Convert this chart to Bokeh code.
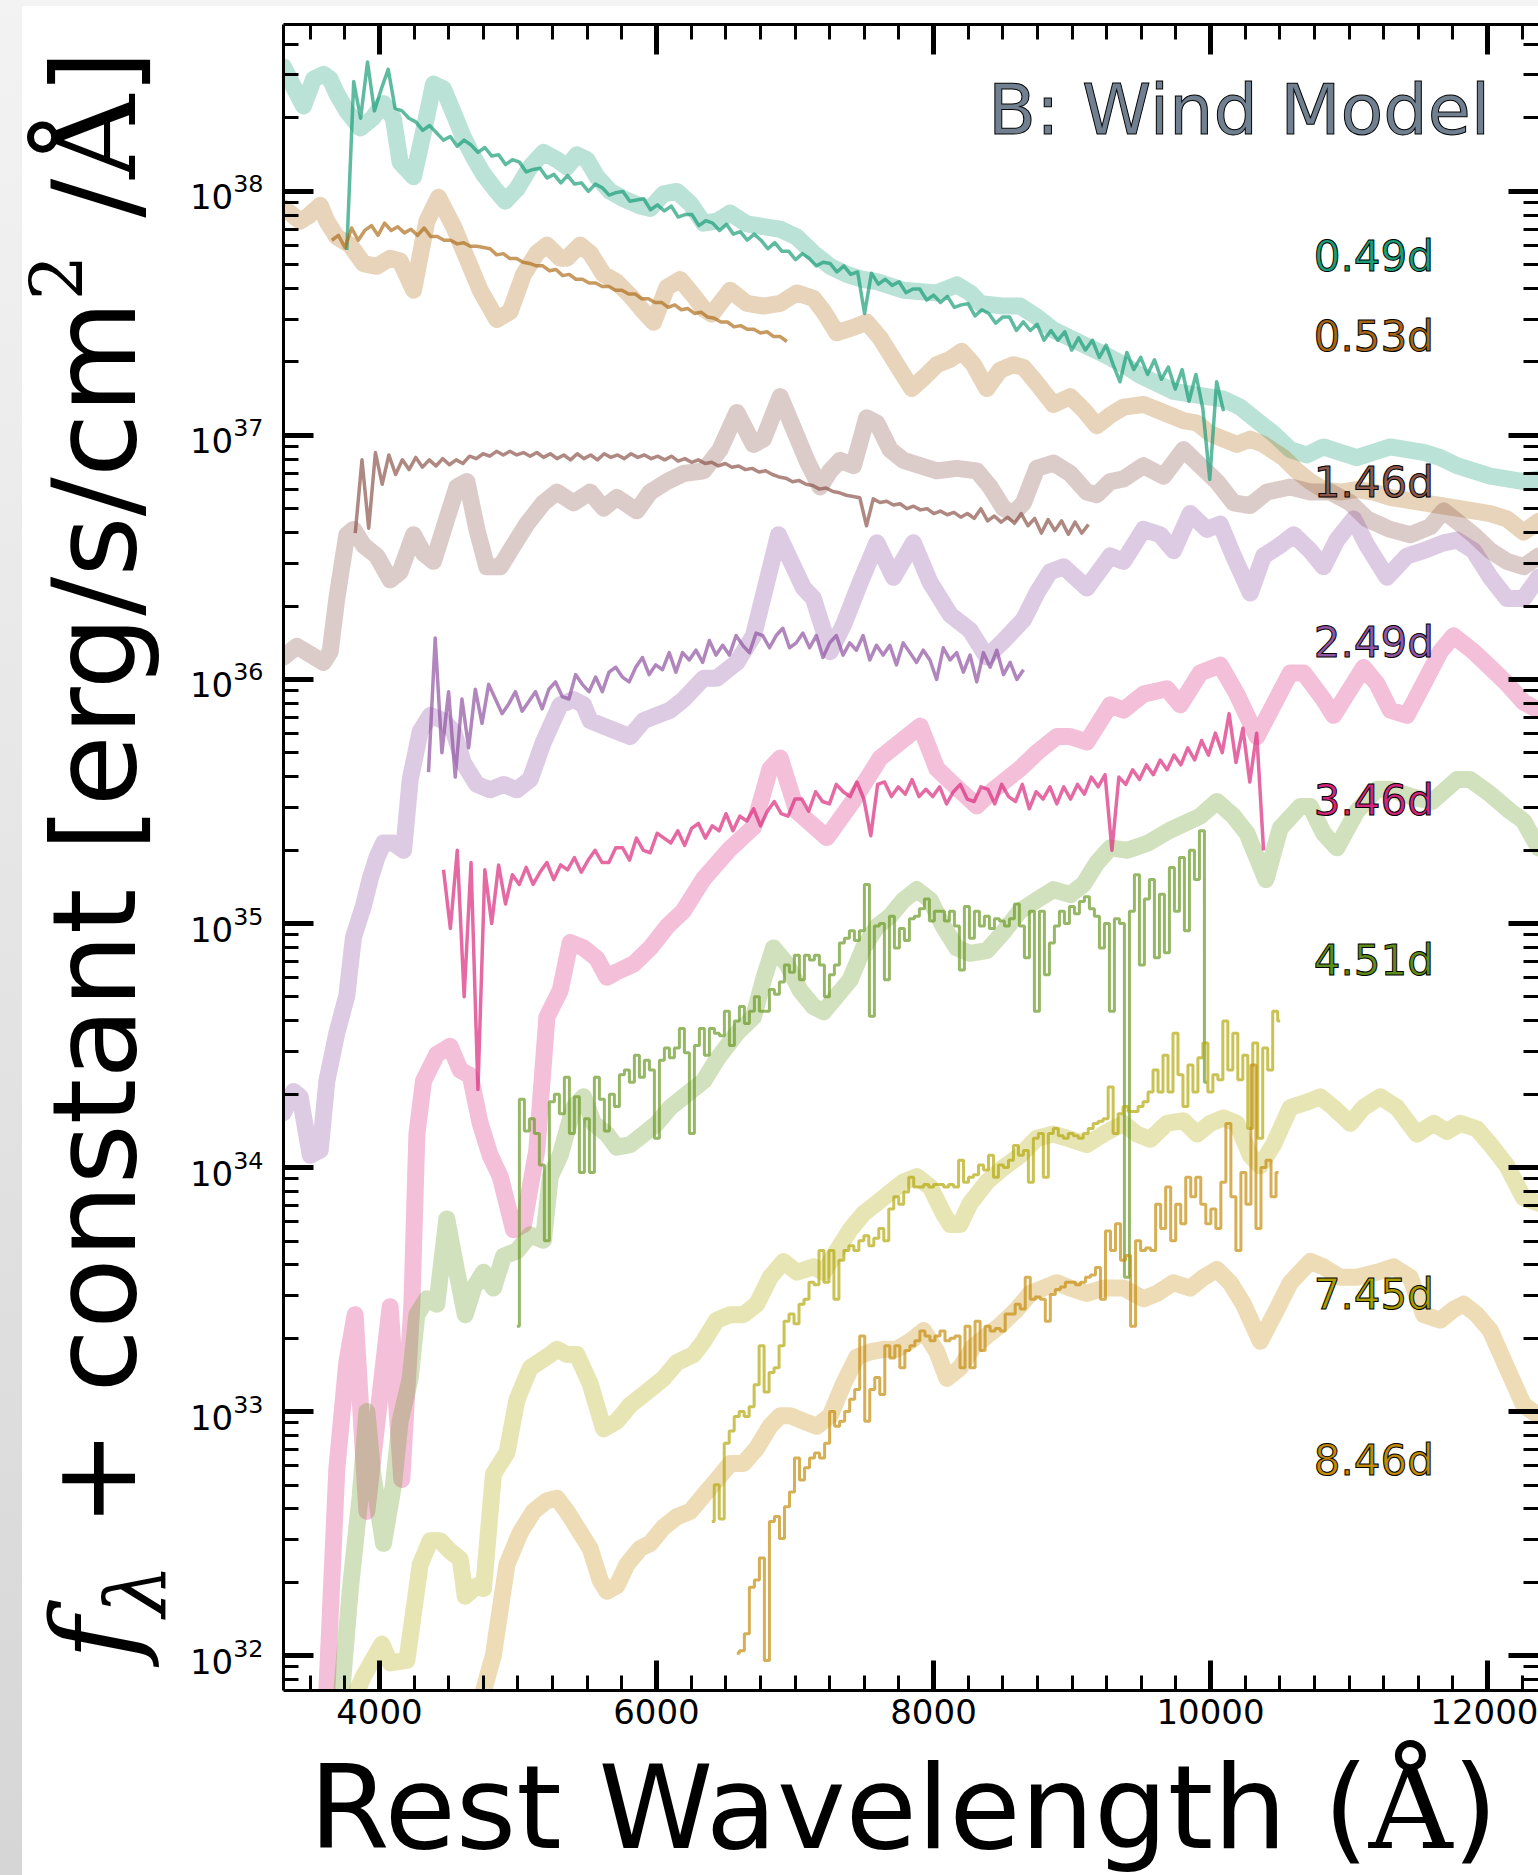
import numpy as np
from bokeh.plotting import figure
from bokeh.models import (Range1d, LinearAxis, LogAxis, SingleIntervalTicker,
                          LogTicker, Label, Div)
from bokeh.layouts import row, column
from bokeh.embed import file_html
from bokeh.resources import INLINE

# ------------------------------------------------------------------ data
EPOCHS = ["0.49d", "0.53d", "1.46d", "2.49d", "3.46d", "4.51d", "7.45d", "8.46d"]
SERIES_COLORS = ["#1b9e77", "#ae6f1c", "#8c564b", "#8e52a1",
                 "#da2b7e", "#6a9a25", "#b3a80a", "#c58b0b"]
LABEL_COLORS = ["#1b9e77", "#a6661a", "#8c564b", "#9056a3",
                "#d6257a", "#5f8c1e", "#aa9c00", "#c48a0a"]
# log10 flux at which each epoch tag sits
LABEL_LOGF = [37.734, 37.406, 36.807, 36.152, 35.504, 34.848, 33.480, 32.799]
LABEL_WAVE = 10745

# model spectra: (rest wavelength [A], log10 f_lambda + const)
MODEL_049 = [(3307, 38.51), (3451, 38.35), (3524, 38.46), (3596, 38.48), (3644, 38.46),
             (3692, 38.40), (3764, 38.33), (3861, 38.26), (3950, 38.30), (4029, 38.36),
             (4100, 38.30), (4149, 38.12), (4246, 38.06), (4320, 38.25), (4390, 38.44),
             (4462, 38.42), (4535, 38.32), (4607, 38.22), (4679, 38.14), (4751, 38.07),
             (4847, 38.00), (4908, 37.96), (4992, 38.01), (5088, 38.10), (5184, 38.16),
             (5281, 38.13), (5353, 38.10), (5425, 38.15), (5497, 38.13), (5570, 38.06),
             (5666, 38.00), (5762, 37.97), (5882, 37.94), (5955, 37.93), (6051, 37.99),
             (6147, 38.00), (6244, 37.95), (6340, 37.87), (6435, 37.878), (6532, 37.911),
             (6652, 37.867), (6772, 37.856), (6893, 37.845), (7013, 37.813), (7133, 37.747),
             (7254, 37.693), (7374, 37.66), (7494, 37.639), (7591, 37.63), (7783, 37.595),
             (8024, 37.584), (8168, 37.617), (8265, 37.584), (8337, 37.541), (8505, 37.53),
             (8626, 37.53), (8746, 37.486), (8866, 37.432), (8987, 37.399), (9107, 37.366),
             (9227, 37.334), (9372, 37.29), (9492, 37.246), (9733, 37.181), (9974, 37.159),
             (10094, 37.149), (10214, 37.116), (10335, 37.061), (10455, 37.007), (10576, 36.942),
             (10696, 36.92), (10816, 36.953), (10937, 36.931), (11057, 36.909), (11177, 36.931),
             (11298, 36.953), (11418, 36.942), (11539, 36.931), (11659, 36.909), (11779, 36.876),
             (11899, 36.855), (12020, 36.833), (12140, 36.822), (12260, 36.811), (12369, 36.822)]

MODEL_053 = [(3307, 37.933), (3427, 37.878), (3488, 37.90), (3572, 37.943), (3620, 37.878),
             (3692, 37.813), (3788, 37.78), (3885, 37.704), (3981, 37.693), (4077, 37.726),
             (4149, 37.715), (4246, 37.595), (4342, 37.878), (4426, 37.976), (4535, 37.856),
             (4631, 37.726), (4727, 37.595), (4847, 37.475), (4944, 37.508), (5040, 37.66),
             (5136, 37.747), (5209, 37.78), (5305, 37.726), (5353, 37.726), (5449, 37.78),
             (5521, 37.747), (5618, 37.66), (5714, 37.628), (5810, 37.573), (5907, 37.508),
             (5979, 37.464), (6075, 37.606), (6171, 37.639), (6268, 37.573), (6340, 37.519),
             (6399, 37.497), (6532, 37.595), (6652, 37.541), (6772, 37.53), (6893, 37.541),
             (7013, 37.584), (7133, 37.562), (7206, 37.508), (7302, 37.421), (7422, 37.443),
             (7518, 37.464), (7615, 37.399), (7735, 37.29), (7843, 37.192), (7928, 37.236),
             (8024, 37.29), (8120, 37.312), (8204, 37.345), (8289, 37.29), (8385, 37.192),
             (8481, 37.268), (8577, 37.29), (8650, 37.279), (8746, 37.214), (8866, 37.127),
             (8987, 37.159), (9083, 37.105), (9179, 37.04), (9276, 37.083), (9372, 37.116),
             (9516, 37.127), (9661, 37.094), (9805, 37.061), (9902, 37.051), (9998, 37.007),
             (10094, 36.985), (10190, 36.963), (10287, 36.985), (10383, 36.963), (10527, 36.909),
             (10624, 36.855), (10720, 36.811), (10816, 36.778), (10937, 36.768), (11057, 36.778),
             (11177, 36.768), (11298, 36.746), (11418, 36.735), (11539, 36.724), (11659, 36.713),
             (11779, 36.702), (11899, 36.691), (12020, 36.68), (12140, 36.658), (12260, 36.604),
             (12369, 36.648)]

MODEL_146 = [(3307, 36.092), (3403, 36.136), (3500, 36.103), (3596, 36.07), (3644, 36.114),
             (3692, 36.332), (3764, 36.593), (3812, 36.615), (3885, 36.55), (3981, 36.506),
             (4077, 36.408), (4149, 36.441), (4246, 36.593), (4318, 36.517), (4390, 36.484),
             (4486, 36.658), (4559, 36.789), (4631, 36.811), (4703, 36.615), (4775, 36.462),
             (4872, 36.462), (4968, 36.55), (5064, 36.637), (5184, 36.724), (5281, 36.768),
             (5401, 36.724), (5521, 36.768), (5618, 36.702), (5714, 36.746), (5858, 36.691),
             (5955, 36.768), (6075, 36.811), (6195, 36.844), (6340, 36.855), (6459, 36.942),
             (6580, 37.094), (6700, 36.963), (6772, 36.985), (6893, 37.159), (6989, 37.029),
             (7085, 36.898), (7181, 36.789), (7254, 36.855), (7326, 36.898), (7422, 36.876),
             (7518, 37.072), (7591, 37.051), (7687, 36.942), (7783, 36.898), (7904, 36.876),
             (8024, 36.855), (8168, 36.865), (8313, 36.855), (8409, 36.789), (8505, 36.702),
             (8577, 36.68), (8650, 36.724), (8746, 36.865), (8866, 36.887), (8987, 36.844),
             (9107, 36.768), (9179, 36.757), (9276, 36.811), (9372, 36.822), (9516, 36.876),
             (9661, 36.833), (9805, 36.942), (9926, 36.876), (10046, 36.811), (10166, 36.724),
             (10287, 36.713), (10407, 36.768), (10576, 36.789), (10720, 36.768), (10864, 36.768),
             (11009, 36.724), (11129, 36.658), (11298, 36.615), (11442, 36.593), (11587, 36.626),
             (11683, 36.691), (11779, 36.648), (11899, 36.593), (12020, 36.528), (12140, 36.484),
             (12260, 36.462), (12369, 36.506)]

MODEL_249 = [(3307, 34.225), (3379, 34.312), (3427, 34.29), (3500, 34.05), (3572, 34.072),
             (3620, 34.355), (3692, 34.551), (3764, 34.704), (3812, 34.943), (3885, 35.074),
             (3933, 35.183), (3981, 35.27), (4029, 35.33), (4100, 35.33), (4174, 35.30),
             (4222, 35.591), (4294, 35.787), (4366, 35.853), (4462, 35.831), (4535, 35.787),
             (4607, 35.657), (4703, 35.57), (4799, 35.548), (4896, 35.57), (4992, 35.548),
             (5088, 35.591), (5184, 35.744), (5305, 35.896), (5401, 35.918), (5473, 35.896),
             (5521, 35.831), (5618, 35.809), (5714, 35.787), (5810, 35.766), (5907, 35.831),
             (6003, 35.853), (6099, 35.874), (6195, 35.918), (6340, 36.005), (6435, 36.005),
             (6580, 36.07), (6700, 36.179), (6881, 36.593), (7061, 36.375), (7133, 36.332),
             (7254, 36.114), (7350, 36.223), (7470, 36.397), (7591, 36.56), (7711, 36.419),
             (7855, 36.56), (7976, 36.397), (8120, 36.266), (8265, 36.201), (8385, 36.092),
             (8505, 36.158), (8650, 36.245), (8746, 36.354), (8842, 36.441), (8939, 36.462),
             (9107, 36.375), (9276, 36.506), (9372, 36.484), (9516, 36.615), (9637, 36.593),
             (9733, 36.528), (9853, 36.68), (9974, 36.615), (10070, 36.637), (10166, 36.506),
             (10287, 36.354), (10383, 36.506), (10503, 36.55), (10600, 36.593), (10720, 36.528),
             (10816, 36.462), (10912, 36.571), (11033, 36.658), (11129, 36.55), (11274, 36.419),
             (11418, 36.506), (11539, 36.528), (11683, 36.56), (11779, 36.571), (11899, 36.528),
             (12020, 36.419), (12140, 36.332), (12260, 36.332), (12369, 36.419)]

MODEL_346 = [(3620, 31.855), (3692, 32.765), (3764, 33.201), (3824, 33.397), (3909, 32.591),
             (4077, 33.43), (4161, 32.722), (4234, 33.44), (4270, 34.137), (4318, 34.355),
             (4414, 34.464), (4510, 34.497), (4583, 34.399), (4655, 34.377), (4727, 34.181),
             (4799, 34.05), (4872, 33.963), (4968, 33.745), (5040, 33.767), (5136, 34.072),
             (5209, 34.617), (5305, 34.726), (5377, 34.922), (5473, 34.90), (5570, 34.856),
             (5642, 34.78), (5714, 34.802), (5834, 34.834), (5955, 34.90), (6075, 34.987),
             (6195, 35.052), (6340, 35.183), (6520, 35.30), (6700, 35.395), (6820, 35.635),
             (6893, 35.678), (7013, 35.461), (7230, 35.352), (7422, 35.504), (7615, 35.678),
             (7783, 35.755), (7904, 35.809), (8024, 35.635), (8144, 35.57), (8313, 35.482),
             (8433, 35.548), (8626, 35.635), (8746, 35.70), (8890, 35.766), (8987, 35.766),
             (9107, 35.744), (9276, 35.896), (9372, 35.874), (9516, 35.94), (9685, 35.962),
             (9781, 35.896), (9926, 36.027), (10070, 36.059), (10190, 35.94), (10335, 35.766),
             (10455, 35.896), (10576, 36.027), (10672, 36.027), (10816, 35.918), (10888, 35.853),
             (11009, 35.962), (11105, 36.049), (11201, 35.983), (11298, 35.874), (11418, 35.853),
             (11539, 35.983), (11659, 36.114), (11755, 36.179), (11899, 36.114), (12020, 36.049),
             (12140, 35.983), (12260, 35.907), (12369, 35.874)]

MODEL_451 = [(3728, 31.855), (3788, 32.264), (3861, 32.656), (3909, 33.0), (3950, 32.75),
             (4029, 32.46), (4101, 32.70), (4149, 32.961), (4222, 33.136), (4270, 33.397),
             (4342, 33.462), (4414, 33.44), (4486, 33.789), (4559, 33.571), (4619, 33.397),
             (4679, 33.506), (4751, 33.571), (4823, 33.506), (4896, 33.637), (4992, 33.658),
             (5088, 33.724), (5184, 33.702), (5233, 33.963), (5305, 34.05), (5401, 34.246),
             (5473, 34.29), (5546, 34.181), (5642, 34.137), (5714, 34.083), (5810, 34.094),
             (5907, 34.137), (6003, 34.181), (6099, 34.246), (6195, 34.29), (6340, 34.355),
             (6435, 34.442), (6580, 34.551), (6700, 34.617), (6772, 34.769), (6844, 34.90),
             (6941, 34.834), (7037, 34.726), (7133, 34.66), (7206, 34.638), (7302, 34.704),
             (7398, 34.769), (7494, 34.90), (7591, 34.987), (7687, 35.03), (7783, 35.096),
             (7879, 35.139), (7976, 35.096), (8072, 34.987), (8168, 34.90), (8265, 34.878),
             (8385, 34.889), (8505, 34.965), (8626, 35.052), (8746, 35.096), (8866, 35.139),
             (8987, 35.118), (9083, 35.161), (9179, 35.248), (9276, 35.31), (9400, 35.30),
             (9550, 35.33), (9700, 35.38), (9926, 35.44), (10046, 35.50), (10166, 35.44),
             (10263, 35.37), (10400, 35.18), (10503, 35.39), (10648, 35.48), (10720, 35.48),
             (10816, 35.37), (10912, 35.31), (11057, 35.46), (11201, 35.55), (11298, 35.55),
             (11450, 35.52), (11600, 35.50), (11779, 35.59), (11875, 35.59), (12020, 35.53),
             (12164, 35.46), (12260, 35.42), (12369, 35.31)]

MODEL_745 = [(3837, 31.855), (3885, 31.916), (4017, 32.047), (4077, 31.97), (4198, 31.981),
             (4294, 32.373), (4366, 32.471), (4438, 32.471), (4510, 32.428), (4583, 32.395),
             (4619, 32.243), (4703, 32.286), (4751, 32.275), (4823, 32.744), (4920, 32.831),
             (4992, 33.048), (5088, 33.179), (5233, 33.234), (5281, 33.255), (5353, 33.234),
             (5425, 33.234), (5521, 33.114), (5618, 32.929), (5714, 32.961), (5810, 33.027),
             (5907, 33.07), (5955, 33.092), (6051, 33.136), (6147, 33.201), (6268, 33.234),
             (6340, 33.288), (6435, 33.375), (6532, 33.397), (6628, 33.397), (6724, 33.44),
             (6820, 33.55), (6917, 33.615), (7013, 33.571), (7133, 33.593), (7206, 33.571),
             (7302, 33.658), (7398, 33.745), (7494, 33.811), (7591, 33.854), (7687, 33.898),
             (7783, 33.941), (7879, 33.963), (7976, 33.92), (8072, 33.811), (8120, 33.767),
             (8192, 33.767), (8265, 33.854), (8385, 33.941), (8505, 34.0), (8626, 34.05),
             (8746, 34.12), (8866, 34.137), (8987, 34.116), (9107, 34.094), (9227, 34.137),
             (9372, 34.181), (9468, 34.137), (9565, 34.116), (9685, 34.181), (9805, 34.192),
             (9902, 34.137), (9998, 34.181), (10094, 34.203), (10190, 34.181), (10287, 34.05),
             (10359, 34.007), (10455, 34.094), (10576, 34.246), (10696, 34.268), (10792, 34.29),
             (10888, 34.246), (11009, 34.181), (11105, 34.246), (11225, 34.29), (11346, 34.246),
             (11490, 34.137), (11611, 34.181), (11707, 34.148), (11803, 34.181), (11923, 34.159),
             (12020, 34.094), (12140, 34.007), (12260, 33.876), (12369, 33.854)]

MODEL_846 = [(4751, 31.855), (4823, 32.003), (4920, 32.373), (5016, 32.504), (5112, 32.591),
             (5209, 32.635), (5281, 32.645), (5353, 32.591), (5425, 32.526), (5521, 32.439),
             (5594, 32.308), (5642, 32.264), (5714, 32.286), (5786, 32.373), (5882, 32.439),
             (5955, 32.46), (6051, 32.526), (6147, 32.569), (6244, 32.591), (6340, 32.656),
             (6435, 32.72), (6532, 32.787), (6628, 32.787), (6724, 32.85), (6820, 32.94),
             (6893, 32.983), (6965, 32.983), (7061, 32.961), (7157, 32.94), (7254, 32.983),
             (7350, 33.114), (7446, 33.223), (7542, 33.245), (7639, 33.255), (7735, 33.255),
             (7831, 33.288), (7928, 33.332), (8024, 33.245), (8096, 33.136), (8192, 33.18),
             (8289, 33.266), (8385, 33.31), (8481, 33.353), (8602, 33.419), (8698, 33.484),
             (8794, 33.506), (8890, 33.528), (8987, 33.506), (9107, 33.484), (9227, 33.506),
             (9372, 33.506), (9516, 33.462), (9613, 33.484), (9733, 33.528), (9853, 33.506),
             (9950, 33.55), (10046, 33.582), (10142, 33.528), (10238, 33.44), (10359, 33.288),
             (10479, 33.419), (10576, 33.528), (10720, 33.615), (10816, 33.593), (10937, 33.55),
             (11057, 33.55), (11201, 33.571), (11322, 33.593), (11442, 33.55), (11539, 33.397),
             (11659, 33.375), (11755, 33.419), (11827, 33.44), (11923, 33.397), (12020, 33.332),
             (12140, 33.179), (12260, 33.027), (12369, 32.983)]

# observed spectra: first / last wavelength of the evenly sampled grid + log10 flux
OBS_049_RANGE = (3764, 10094)
OBS_049_LOGF = [37.76, 38.45, 38.30, 38.53, 38.33, 38.42, 38.50, 38.34, 38.33, 38.30,
                38.285, 38.25, 38.27, 38.24, 38.21, 38.225, 38.185, 38.21, 38.19, 38.16,
                38.18, 38.145, 38.15, 38.11, 38.13, 38.12, 38.08, 38.09, 38.095, 38.055,
                38.07, 38.035, 38.065, 38.03, 38.035, 38.00, 38.03, 38.015, 37.985, 37.995,
                38.00, 37.96, 37.965, 37.97, 37.925, 37.945, 37.92, 37.94, 37.895, 37.905,
                37.905, 37.86, 37.88, 37.87, 37.84, 37.865, 37.825, 37.835, 37.80, 37.825,
                37.80, 37.765, 37.79, 37.755, 37.755, 37.72, 37.745, 37.725, 37.695, 37.71,
                37.705, 37.67, 37.695, 37.66, 37.67, 37.50, 37.665, 37.62, 37.64, 37.615,
                37.63, 37.585, 37.60, 37.60, 37.555, 37.575, 37.545, 37.57, 37.525, 37.535,
                37.54, 37.49, 37.515, 37.50, 37.46, 37.485, 37.485, 37.43, 37.465, 37.43,
                37.455, 37.39, 37.43, 37.39, 37.425, 37.35, 37.40, 37.35, 37.39, 37.32,
                37.37, 37.29, 37.22, 37.34, 37.27, 37.32, 37.25, 37.31, 37.23, 37.28,
                37.19, 37.27, 37.14, 37.25, 37.11, 36.82, 37.22, 37.10]

OBS_053_RANGE = (3656, 6941)
OBS_053_LOGF = [37.80, 37.82, 37.77, 37.85, 37.80, 37.84, 37.86, 37.82, 37.87, 37.84,
                37.855, 37.83, 37.845, 37.82, 37.85, 37.815, 37.815, 37.80, 37.80, 37.785,
                37.79, 37.775, 37.775, 37.77, 37.765, 37.74, 37.745, 37.725, 37.725, 37.71,
                37.705, 37.695, 37.695, 37.675, 37.68, 37.655, 37.66, 37.64, 37.64, 37.625,
                37.625, 37.61, 37.61, 37.595, 37.595, 37.58, 37.58, 37.56, 37.56, 37.545,
                37.545, 37.525, 37.535, 37.515, 37.52, 37.50, 37.505, 37.485, 37.48, 37.465,
                37.465, 37.445, 37.45, 37.435, 37.435, 37.42, 37.425, 37.405, 37.405, 37.385]

OBS_146_RANGE = (3825, 9119)
OBS_146_LOGF = [36.60, 36.90, 36.62, 36.93, 36.80, 36.92, 36.84, 36.90, 36.86, 36.91,
                36.87, 36.90, 36.875, 36.905, 36.88, 36.90, 36.885, 36.915, 36.905, 36.925,
                36.915, 36.935, 36.92, 36.935, 36.92, 36.93, 36.915, 36.93, 36.91, 36.925,
                36.905, 36.92, 36.90, 36.925, 36.905, 36.92, 36.90, 36.925, 36.91, 36.92,
                36.905, 36.925, 36.91, 36.92, 36.905, 36.915, 36.90, 36.915, 36.895, 36.905,
                36.89, 36.90, 36.885, 36.89, 36.875, 36.885, 36.87, 36.875, 36.86, 36.865,
                36.85, 36.855, 36.84, 36.83, 36.825, 36.81, 36.815, 36.80, 36.795, 36.78,
                36.785, 36.77, 36.765, 36.755, 36.75, 36.745, 36.63, 36.74, 36.725, 36.73,
                36.715, 36.72, 36.70, 36.71, 36.695, 36.70, 36.68, 36.69, 36.675, 36.685,
                36.665, 36.68, 36.66, 36.70, 36.65, 36.67, 36.645, 36.665, 36.64, 36.68,
                36.63, 36.66, 36.60, 36.655, 36.61, 36.65, 36.595, 36.645, 36.60, 36.635]

OBS_249_RANGE = (4354, 8650)
OBS_249_LOGF = [35.62, 36.17, 35.70, 35.95, 35.60, 35.92, 35.72, 35.96, 35.82, 35.98,
                35.92, 35.86, 35.90, 35.95, 35.87, 35.91, 35.95, 35.88, 35.96, 35.99,
                35.93, 35.92, 36.02, 35.98, 35.95, 36.01, 35.95, 36.03, 36.05, 36.01,
                35.99, 36.05, 36.09, 36.02, 36.06, 36.04, 36.11, 36.03, 36.11, 36.08,
                36.12, 36.07, 36.16, 36.10, 36.14, 36.10, 36.18, 36.14, 36.11, 36.19,
                36.18, 36.13, 36.18, 36.21, 36.13, 36.15, 36.19, 36.13, 36.18, 36.09,
                36.15, 36.18, 36.10, 36.15, 36.12, 36.18, 36.08, 36.14, 36.10, 36.14,
                36.06, 36.15, 36.11, 36.07, 36.12, 36.08, 36.00, 36.13, 36.08, 36.11,
                36.03, 36.10, 35.99, 36.11, 36.05, 36.12, 36.02, 36.07, 36.00, 36.04]

OBS_346_RANGE = (4462, 10383)
OBS_346_LOGF = [35.22, 34.98, 35.30, 34.70, 35.25, 34.32, 35.22, 35.00, 35.24, 35.08,
                35.20, 35.16, 35.23, 35.16, 35.21, 35.25, 35.18, 35.24, 35.22, 35.27,
                35.21, 35.26, 35.30, 35.25, 35.25, 35.31, 35.31, 35.26, 35.35, 35.30,
                35.29, 35.37, 35.35, 35.33, 35.38, 35.32, 35.39, 35.41, 35.35, 35.40,
                35.38, 35.45, 35.38, 35.44, 35.42, 35.47, 35.40, 35.46, 35.50, 35.45,
                35.44, 35.51, 35.51, 35.46, 35.54, 35.50, 35.49, 35.57, 35.54, 35.52,
                35.58, 35.51, 35.36, 35.57, 35.58, 35.52, 35.56, 35.53, 35.59, 35.52,
                35.55, 35.52, 35.56, 35.49, 35.54, 35.57, 35.51, 35.50, 35.56, 35.55,
                35.49, 35.57, 35.52, 35.50, 35.57, 35.47, 35.54, 35.51, 35.56, 35.49,
                35.56, 35.51, 35.57, 35.53, 35.60, 35.56, 35.61, 35.30, 35.60, 35.57,
                35.63, 35.59, 35.65, 35.61, 35.67, 35.63, 35.69, 35.65, 35.72, 35.67,
                35.75, 35.69, 35.78, 35.70, 35.86, 35.66, 35.80, 35.58, 35.78, 35.30]

OBS_451_RANGE = (4992, 9974)
OBS_451_LOGF = [33.35, 34.28, 34.15, 34.20, 34.14, 34.01, 33.70, 34.27, 34.30, 34.22,
                34.37, 34.14, 34.29, 33.98, 34.20, 33.98, 34.37, 34.28, 34.15, 34.30,
                34.25, 34.38, 34.40, 34.35, 34.46, 34.37, 34.44, 34.40, 34.12, 34.44,
                34.49, 34.45, 34.49, 34.57, 34.47, 34.14, 34.50, 34.57, 34.46, 34.57,
                34.55, 34.54, 34.64, 34.50, 34.60, 34.66, 34.59, 34.64, 34.70, 34.64,
                34.64, 34.73, 34.71, 34.76, 34.83, 34.80, 34.87, 34.77, 34.87, 34.85,
                34.87, 34.83, 34.70, 34.79, 34.83, 34.92, 34.94, 34.97, 34.93, 34.97,
                35.16, 34.62, 34.99, 35.00, 34.77, 35.03, 34.90, 34.98, 34.93, 35.02,
                35.03, 35.06, 35.10, 35.01, 35.05, 35.05, 35.01, 35.05, 34.99, 34.81,
                35.07, 34.94, 35.05, 34.99, 35.03, 34.98, 35.02, 35.01, 34.99, 35.02,
                35.08, 34.99, 34.86, 35.05, 34.64, 35.05, 34.79, 34.92, 34.99, 35.05,
                35.00, 35.07, 35.04, 35.09, 35.11, 35.06, 35.03, 34.90, 35.00, 34.64,
                35.02, 35.00, 33.55, 35.05, 35.20, 34.83, 35.10, 35.18, 34.86, 35.12,
                34.88, 35.23, 35.05, 35.27, 34.97, 35.30, 35.18, 35.38, 34.35]

OBS_745_RANGE = (6399, 10503)
OBS_745_LOGF = [32.55, 32.70, 32.56, 32.87, 32.92, 32.98, 33.00, 32.98, 33.02, 33.11,
                33.27, 33.08, 33.16, 33.18, 33.27, 33.37, 33.40, 33.36, 33.44, 33.46,
                33.53, 33.52, 33.66, 33.53, 33.66, 33.46, 33.62, 33.66, 33.68, 33.66,
                33.70, 33.72, 33.68, 33.71, 33.75, 33.70, 33.83, 33.88, 33.85, 33.90,
                33.96, 33.92, 33.92, 33.93, 33.92, 33.93, 33.93, 33.92, 33.93, 33.92,
                34.03, 33.94, 33.96, 33.97, 34.01, 33.99, 34.05, 33.96, 34.01, 34.00,
                34.03, 34.09, 34.05, 34.07, 33.94, 34.12, 34.14, 33.96, 34.14, 34.16,
                34.13, 34.12, 34.14, 34.13, 34.12, 34.14, 34.16, 34.18, 34.19, 34.20,
                34.33, 34.14, 34.22, 34.25, 34.23, 34.23, 34.25, 34.27, 34.31, 34.40,
                34.31, 34.46, 34.31, 34.55, 34.38, 34.25, 34.42, 34.31, 34.45, 34.51,
                34.31, 34.38, 34.36, 34.60, 34.40, 34.55, 34.36, 34.46, 34.16, 34.51,
                34.12, 34.49, 34.40, 34.64, 34.60]

OBS_846_RANGE = (6580, 10491)
OBS_846_LOGF = [32.01, 32.02, 32.09, 32.28, 32.31, 32.40, 31.98, 32.55, 32.57, 32.48,
                32.61, 32.67, 32.81, 32.72, 32.77, 32.81, 32.83, 32.81, 32.87, 33.00,
                32.94, 32.96, 33.00, 33.05, 33.09, 33.31, 32.96, 33.09, 33.14, 33.07,
                33.27, 33.22, 33.27, 33.18, 33.25, 33.27, 33.29, 33.33, 33.31, 33.29,
                33.31, 33.33, 33.29, 33.30, 33.31, 33.18, 33.35, 33.18, 33.37, 33.25,
                33.35, 33.33, 33.34, 33.33, 33.40, 33.40, 33.44, 33.42, 33.55, 33.46,
                33.47, 33.46, 33.37, 33.48, 33.50, 33.51, 33.53, 33.53, 33.52, 33.53,
                33.55, 33.56, 33.59, 33.46, 33.74, 33.66, 33.77, 33.62, 33.64, 33.35,
                33.70, 33.66, 33.67, 33.66, 33.85, 33.75, 33.92, 33.70, 33.85, 33.77,
                33.96, 33.88, 33.96, 33.85, 33.77, 33.83, 33.75, 33.94, 34.18, 33.88,
                33.66, 33.98, 33.85, 34.42, 33.75, 34.00, 34.03, 33.88, 33.98]

MODELS = [MODEL_049, MODEL_053, MODEL_146, MODEL_249, MODEL_346, MODEL_451, MODEL_745, MODEL_846]
OBSERVED = [(OBS_049_RANGE, OBS_049_LOGF, "line"), (OBS_053_RANGE, OBS_053_LOGF, "line"),
            (OBS_146_RANGE, OBS_146_LOGF, "line"), (OBS_249_RANGE, OBS_249_LOGF, "line"),
            (OBS_346_RANGE, OBS_346_LOGF, "line"), (OBS_451_RANGE, OBS_451_LOGF, "step"),
            (OBS_745_RANGE, OBS_745_LOGF, "step"), (OBS_846_RANGE, OBS_846_LOGF, "step")]

X_LIMITS = (3307, 12368)
LOGY_LIMITS = (31.857, 38.684)

# ------------------------------------------------------------------ page geometry
STRIP_W, BAND_H = 22, 6          # shaded page edges
YTITLE_W = 150                   # column holding the rotated y title
FIG_W, FIG_H = 1538 - STRIP_W - YTITLE_W, 1734
XTITLE_H = 1875 - BAND_H - FIG_H

p = figure(width=FIG_W, height=FIG_H, output_backend="svg", toolbar_location=None,
           y_axis_type="log",
           x_range=Range1d(*X_LIMITS),
           y_range=Range1d(10 ** LOGY_LIMITS[0], 10 ** LOGY_LIMITS[1]),
           min_border_left=111, min_border_right=0, min_border_top=18,
           min_border_bottom=50,
           background_fill_color="white", border_fill_color="white")
p.outline_line_color = None
p.grid.visible = False

x_ticker = SingleIntervalTicker(interval=2000, num_minor_ticks=8)
y_ticker = LogTicker(num_minor_ticks=10)

bottom_ax = p.below[0]
left_ax = p.left[0]
top_ax = LinearAxis(ticker=x_ticker)
right_ax = LogAxis(ticker=y_ticker)
p.add_layout(top_ax, "above")
p.add_layout(right_ax, "right")
bottom_ax.ticker = x_ticker
left_ax.ticker = y_ticker

for ax in (bottom_ax, left_ax, top_ax, right_ax):
    ax.axis_line_width = 3
    ax.axis_line_color = "black"
    ax.major_tick_in = 30
    ax.major_tick_out = 0
    ax.minor_tick_in = 15
    ax.minor_tick_out = 0
    ax.major_tick_line_width = 5
    ax.minor_tick_line_width = 3
    ax.major_tick_line_color = "black"
    ax.minor_tick_line_color = "black"
    ax.major_label_text_font = "DejaVu Sans"
    ax.major_label_text_font_size = "34px"
    ax.major_label_text_color = "black"

bottom_ax.major_label_standoff = 8
left_ax.major_label_standoff = 20
# mirrored tick marks on the top and right edges carry no numbers
for ax in (top_ax, right_ax):
    ax.major_label_text_color = None
right_ax.axis_line_color = None

# model curves (broad, translucent) first, then the observed spectra on top
for pts, color in zip(MODELS, SERIES_COLORS):
    wave = [w for w, _ in pts]
    flux = [10 ** f for _, f in pts]
    p.line(wave, flux, line_color=color, line_alpha=0.3, line_width=17,
           line_join="round", line_cap="round")

for (rng, logf, kind), color in zip(OBSERVED, SERIES_COLORS):
    wave = np.linspace(rng[0], rng[1], len(logf))
    flux = 10 ** np.asarray(logf)
    if kind == "step":
        p.step(wave, flux, mode="center", line_color=color, line_alpha=0.7, line_width=3)
    else:
        p.line(wave, flux, line_color=color, line_alpha=0.7, line_width=3.5,
               line_join="round")

# epoch tags
for name, color, lf in zip(EPOCHS, LABEL_COLORS, LABEL_LOGF):
    p.add_layout(Label(x=LABEL_WAVE, y=10 ** lf, text=name, text_color=color,
                       text_outline_color="black", text_font="DejaVu Sans",
                       text_font_size="42px", text_align="left", text_baseline="middle"))

p.add_layout(Label(x=12020, y=10 ** 38.332, text="B: Wind Model", text_color="#708090",
                   text_outline_color="black", text_font="DejaVu Sans",
                   text_font_size="70px", text_align="right", text_baseline="middle"))

# ------------------------------------------------------------------ axis titles (HTML)
SERIF = "font-family:'DejaVu Serif';"
y_title_html = (
    f'<div style="position:relative;width:{YTITLE_W}px;height:{FIG_H}px;">'
    '<div style="position:absolute;left:15px;top:1654px;transform-origin:0 0;'
    'transform:rotate(-90deg);white-space:nowrap;width:max-content;'
    "font-family:'DejaVu Sans';font-size:116px;line-height:116px;color:#000;\">"
    f'<span style="{SERIF}font-style:italic;">f</span>'
    f'<span style="{SERIF}font-style:italic;font-size:84px;position:relative;top:30px;">λ</span>'
    ' + constant [erg/s/cm'
    f'<span style="{SERIF}font-size:72px;position:relative;top:-52px;">2</span>'
    f' /<span style="{SERIF}">Å</span>]'
    '</div></div>'
)
x_title_html = (
    '<div style="padding-left:287px;padding-top:10px;white-space:nowrap;'
    "font-family:'DejaVu Sans';font-size:116px;line-height:116px;color:#000;\">"
    f'Rest Wavelength (<span style="{SERIF}">Å</span>)</div>'
)

y_title = Div(text=y_title_html, width=YTITLE_W, height=FIG_H, margin=0,
              styles={"background": "white"})
x_title = Div(text=x_title_html, width=YTITLE_W + FIG_W, height=XTITLE_H, margin=0,
              styles={"background": "white"})

# page frame: shaded strip on the left and a thin band on top
left_strip = Div(text="", width=STRIP_W, height=1875, margin=0,
                 styles={"background": "linear-gradient(to bottom, #f3f3f3, #d6d6d6)"})
top_band = Div(text="", width=YTITLE_W + FIG_W, height=BAND_H, margin=0,
               styles={"background": "#f4f4f4"})

page = row(left_strip,
           column(top_band, row(y_title, p, spacing=0), x_title, spacing=0),
           spacing=0)

open("out.html", "w").write(file_html(page, INLINE, title="Wind model spectra"))
